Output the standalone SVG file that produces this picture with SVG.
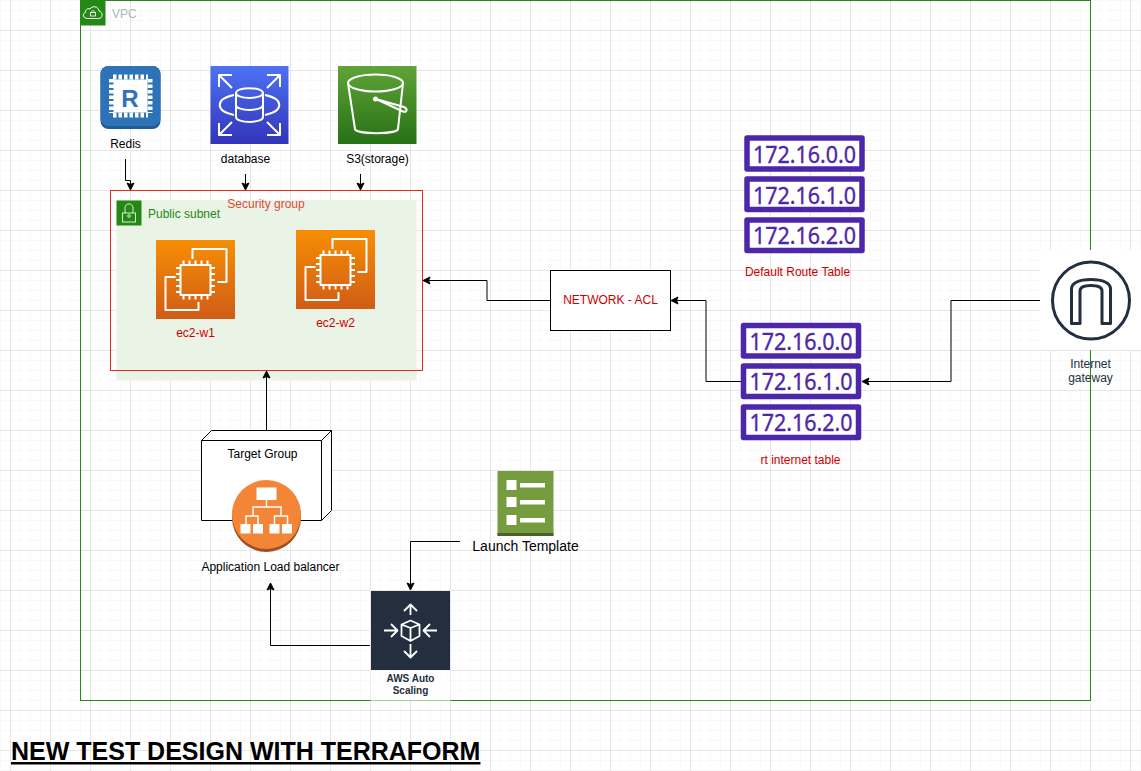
<svg xmlns="http://www.w3.org/2000/svg" width="1141" height="771" viewBox="0 0 1141 771">
<style>
text{font-family:"Liberation Sans",Arial,sans-serif;font-size:12px;text-anchor:middle;fill:#000}
.red{fill:#c00}
.wire{fill:none;stroke:#000;stroke-width:1;marker-end:url(#arr)}
.ic{fill:none;stroke:#fff;stroke-width:2;stroke-linejoin:round}
.rt{fill:#fff;stroke:#4d27aa;stroke-width:5.5;stroke-linejoin:round}
.ip{font-family:"Noto Sans","DejaVu Sans",sans-serif;font-size:24px;fill:#4d27aa;stroke:#4d27aa;stroke-width:.35}
</style>
<defs>
<pattern id="minor" width="10" height="10" patternUnits="userSpaceOnUse"><path d="M.5 0V10M0 .5H10" fill="none" stroke="#f8f8f8" stroke-width="1"/></pattern>
<pattern id="major" x="10" y="-10" width="40" height="40" patternUnits="userSpaceOnUse"><path d="M.5 0V40M0 .5H40" fill="none" stroke="#e6e6e6" stroke-width="1"/></pattern>
<marker id="arr" viewBox="-1 -1 10 10" refX="7.500" refY="4" markerWidth="10" markerHeight="10" markerUnits="userSpaceOnUse" orient="auto"><path d="M7.500 4 .5 .5 2 4 .5 7.500Z" fill="#000" stroke="#000" stroke-width="1"/></marker>
<linearGradient id="gb" x1="0" y1="0" x2="0" y2="1"><stop offset="0" stop-color="#4d72f3"/><stop offset="1" stop-color="#3334b9"/></linearGradient>
<linearGradient id="gg" x1="0" y1="0" x2="0" y2="1"><stop offset="0" stop-color="#60a337"/><stop offset="1" stop-color="#277116"/></linearGradient>
<linearGradient id="go" x1="0" y1="0" x2="0" y2="1"><stop offset="0" stop-color="#f78e04"/><stop offset="1" stop-color="#d05c17"/></linearGradient>
<g id="chip">
<rect x="-15" y="-15" width="30" height="30" class="ic"/>
<path class="ic" d="M-12-15v-4.500M-6-15v-4.500M0-15v-4.500M6-15v-4.500M12-15v-4.500M-12 15v4.500M-6 15v4.500M0 15v4.500M6 15v4.500M12 15v4.500M-15-12h-4.500M-15-6h-4.500M-15 0h-4.500M-15 6h-4.500M-15 12h-4.500M15-12h4.500M15-6h4.500M15 0h4.500M15 6h4.500M15 12h4.500"/>
<path class="ic" d="M-3-21V-31H31V2H22M-20-3H-30V30H3V22"/>
</g>
</defs>

<rect width="1141" height="771" fill="#fff"/>
<rect width="1141" height="771" fill="url(#minor)"/>
<rect width="1141" height="771" fill="url(#major)"/>

<g id="vpc">
<rect x="80.500" y=".5" width="1010" height="700" fill="none" stroke="#248814"/>
<rect x="80.500" y=".5" width="25" height="25" fill="#248814"/>
<path d="M88 18.500h10.500c4.500 0 5-6.500 .5-7.500c-.5-5-7-5.500-9-2c-3-1-5 1-4.500 3.500c-3.500 1-3 6 2.500 6Z" fill="none" stroke="#fff"/>
<rect x="90.500" y="12.500" width="5" height="3.500" fill="none" stroke="#fff" stroke-width=".8"/>
<path d="M91.500 12.500c0-2.500 3-2.500 3 0" fill="none" stroke="#fff" stroke-width=".8"/>
<text x="112" y="18" style="text-anchor:start;fill:#aab7b8">VPC</text>
</g>

<g id="subnet">
<rect x="116.500" y="200" width="300" height="180" fill="#e9f3e6"/>
<rect x="116.500" y="200.500" width="25" height="25" fill="#248814"/>
<rect x="122.500" y="213" width="13" height="9" fill="none" stroke="#d8ecd0"/>
<path d="M125 213v-5c0-5.500 8-5.500 8 0V213" fill="none" stroke="#d8ecd0"/>
<circle cx="129" cy="216" r="1.300" fill="none" stroke="#d8ecd0"/>
<text x="148" y="218" style="text-anchor:start;fill:#248814">Public subnet</text>
</g>

<g id="security-group">
<rect x="110.500" y="190.500" width="312" height="180" fill="none" stroke="#e6291b"/>
<text x="266" y="208" style="fill:#dd4b39">Security group</text>
</g>

<g id="connectors">
<path class="wire" d="M125.500 159V180.500H130.500V190"/>
<path class="wire" d="M245.500 174V190"/>
<path class="wire" d="M360.500 174V190"/>
<path class="wire" d="M550 300.500H487V280.500H423"/>
<path class="wire" d="M741 381.500H706V300.500H671"/>
<path class="wire" d="M1040 300.500H951V381.500H862"/>
<path class="wire" d="M266.500 430V371"/>
<path class="wire" d="M460 541.500H410.500V590"/>
<path class="wire" d="M370 645.500H270.500V583"/>
</g>

<g id="redis">
<rect x="100.500" y="66" width="60" height="63" rx="8" fill="#1f5c91"/>
<rect x="100.500" y="66" width="60" height="60" rx="8" fill="#2e73b8"/>
<rect x="113.500" y="79.500" width="34" height="33" fill="#fff"/>
<path d="M113 77h35M113 115h35M111.500 79v34M150 79v34" fill="none" stroke="#fff" stroke-width="5" stroke-dasharray="3.500 2"/>
<text x="130" y="107" style="font-size:24px;font-weight:bold;fill:#2e73b8">R</text>
<text x="125.500" y="148">Redis</text>
</g>

<g id="database">
<rect x="210.500" y="66" width="78" height="78" fill="url(#gb)"/>
<g class="ic">
<path d="M236 93v24c0 6.500 27 6.500 27 0V93M236 93c0-6.500 27-6.500 27 0s-27 6.500-27 0M236 105c0 6.500 27 6.500 27 0"/>
<path d="M234 95c-19 4-19 16 0 20M265 95c19 4 19 16 0 20"/>
<path d="M219 87V75H232M219 75 232 88M280 87V75H267M280 75 267 88M219 123V135H232M219 135 232 122M280 123V135H267M280 135 267 122"/>
</g>
<text x="245.500" y="163">database</text>
</g>

<g id="s3">
<rect x="338" y="66" width="78.500" height="78" fill="url(#gg)"/>
<g class="ic">
<ellipse cx="375.500" cy="83" rx="27.500" ry="8.500"/>
<path d="M348 83 355 129c1 5.500 42 5.500 43 0L403 83"/>
<path d="M376 99 404 107c4 2 3 6-1 4.500L376 99"/>
</g>
<circle cx="375.500" cy="99" r="2.500" fill="#fff"/>
<text x="377.500" y="163">S3(storage)</text>
</g>

<g id="ec2-w1">
<rect x="156" y="240" width="79" height="79" fill="url(#go)"/>
<use href="#chip" x="195.500" y="280"/>
<text x="195.500" y="337" class="red">ec2-w1</text>
</g>

<g id="ec2-w2">
<rect x="296" y="230" width="79" height="79" fill="url(#go)"/>
<use href="#chip" x="335.500" y="270"/>
<text x="335.500" y="327" class="red">ec2-w2</text>
</g>

<g id="default-route-table">
<rect class="rt" x="747" y="138" width="115" height="31"/>
<rect class="rt" x="747" y="179" width="115" height="30.500"/>
<rect class="rt" x="747" y="220" width="115" height="30.500"/>
<text class="ip" x="804.500" y="162.500" textLength="103" lengthAdjust="spacingAndGlyphs">172.16.0.0</text>
<text class="ip" x="804.500" y="203.500" textLength="103" lengthAdjust="spacingAndGlyphs">172.16.1.0</text>
<text class="ip" x="804.500" y="244" textLength="103" lengthAdjust="spacingAndGlyphs">172.16.2.0</text>
<text x="797.500" y="276" class="red">Default Route Table</text>
</g>

<g id="network-acl">
<rect x="550.500" y="270.500" width="120" height="60" fill="#fff" stroke="#000"/>
<text x="610.500" y="304" class="red">NETWORK - ACL</text>
</g>

<g id="rt-internet-table">
<rect class="rt" x="743.500" y="325.500" width="115" height="30.500"/>
<rect class="rt" x="743.500" y="366" width="115" height="30.500"/>
<rect class="rt" x="743.500" y="407" width="115" height="30.500"/>
<text class="ip" x="801" y="349.500" textLength="103" lengthAdjust="spacingAndGlyphs">172.16.0.0</text>
<text class="ip" x="801" y="390" textLength="103" lengthAdjust="spacingAndGlyphs">172.16.1.0</text>
<text class="ip" x="801" y="431" textLength="103" lengthAdjust="spacingAndGlyphs">172.16.2.0</text>
<text x="800.500" y="464" class="red">rt internet table</text>
</g>

<g id="internet-gateway">
<rect x="1040" y="250" width="101" height="100" fill="#fff"/>
<circle cx="1091" cy="300.500" r="38.500" fill="#fff" stroke="#232f3e" stroke-width="3"/>
<path d="M1071.500 323.500V289C1071.500 283 1079 279.500 1091 279.500S1110.500 283 1110.500 289V323.500H1102V291C1102 287 1098 285.500 1091 285.500S1080 287 1080 291V323.500Z" fill="#fff" stroke="#232f3e" stroke-width="3" stroke-linejoin="round"/>
<text x="1090.500" y="368" style="fill:#232f3e">Internet</text>
<text x="1090.500" y="382" style="fill:#232f3e">gateway</text>
</g>

<g id="target-group">
<path d="M201.500 440.500 211.500 430.500H331.500V510.500L321.500 520.500H201.500Z" fill="#fff" stroke="#000"/>
<path d="M201.500 440.500H321.500V520.500M321.500 440.500 331.500 430.500" fill="none" stroke="#000"/>
<text x="262.500" y="458">Target Group</text>
</g>

<g id="alb">
<circle cx="266.500" cy="517.500" r="34.500" fill="#9d5025"/>
<circle cx="266.500" cy="514.500" r="34.500" fill="#f58536"/>
<rect x="256.500" y="487.500" width="20" height="12.500" fill="#fff"/>
<rect x="240.500" y="524" width="10" height="9.500" fill="#fff"/>
<rect x="253" y="524" width="10" height="9.500" fill="#fff"/>
<rect x="269.500" y="524" width="10" height="9.500" fill="#fff"/>
<rect x="282" y="524" width="10" height="9.500" fill="#fff"/>
<path d="M266.500 500V507M253 516V507H281V516M246 524V516H258V524M274.500 524V516H287.500V524" fill="none" stroke="#fff" stroke-width="1.500"/>
<text x="270.500" y="571">Application Load balancer</text>
</g>

<g id="launch-template">
<rect x="497.500" y="471" width="56" height="65" fill="#759c3e"/>
<rect x="497.500" y="533" width="56" height="3" fill="#4b612c"/>
<rect x="506.500" y="480" width="10" height="10" fill="#fff"/>
<rect x="506.500" y="497" width="10" height="10" fill="#fff"/>
<rect x="506.500" y="515" width="10" height="10" fill="#fff"/>
<rect x="520" y="483" width="25" height="4.500" fill="#fff"/>
<rect x="520" y="500" width="25" height="4.500" fill="#fff"/>
<rect x="520" y="518" width="25" height="4.500" fill="#fff"/>
<text x="525.500" y="551" style="font-size:14px">Launch Template</text>
</g>

<g id="auto-scaling">
<rect x="370.500" y="670" width="80" height="31" fill="#fff" fill-opacity=".6"/>
<rect x="371" y="591" width="79" height="79" fill="#232f3e"/>
<g class="ic" style="stroke-width:1.800">
<path d="M410.500 628 401.500 624.500 410.500 620.500 419.500 624.500V636L410.500 641 401.500 636V624.500M410.500 628V641M410.500 628 419.500 624.500"/>
<path d="M410.500 615V605M404 611 410.500 604.500 417 611"/>
<path d="M410.500 644V657M404 651 410.500 657.500 417 651"/>
<path d="M384 630.500H397M391 624 397.500 630.500 391 637"/>
<path d="M437 630.500H424M430 624 423.500 630.500 430 637"/>
</g>
<text x="410.500" y="682" style="font-size:10px;font-weight:bold;fill:#232f3e">AWS Auto</text>
<text x="410.500" y="694" style="font-size:10px;font-weight:bold;fill:#232f3e">Scaling</text>
</g>

<text id="title" x="11" y="760" style="text-anchor:start;font-size:25px;font-weight:bold;text-decoration:underline">NEW TEST DESIGN WITH TERRAFORM</text>
</svg>
